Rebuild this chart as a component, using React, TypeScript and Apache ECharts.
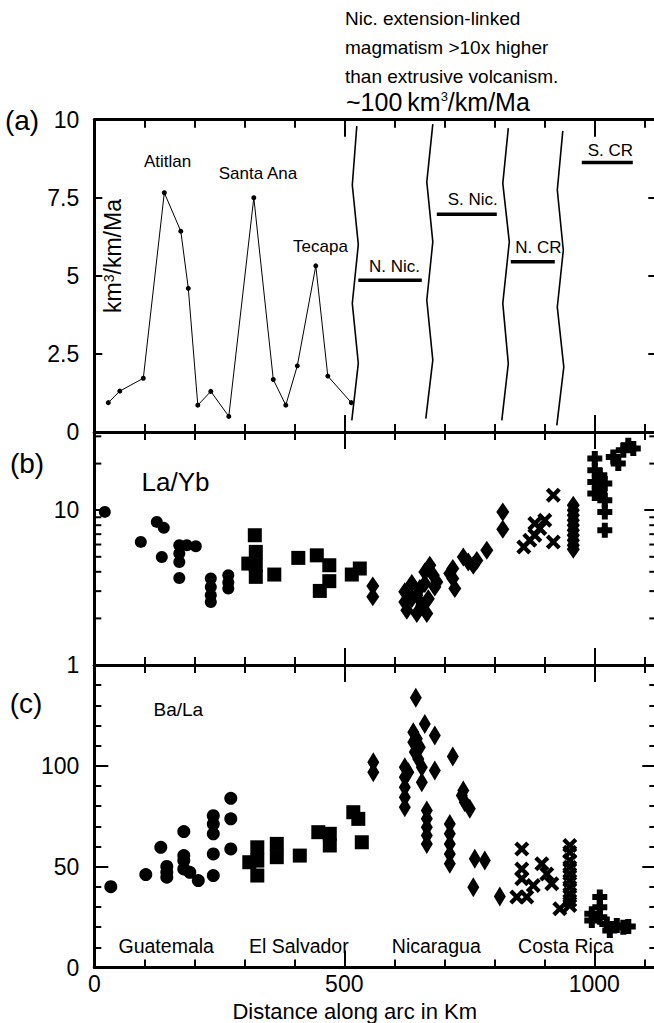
import React, { useEffect, useRef } from "react";
import * as echarts from "echarts";

const FONT = '"Liberation Sans", Arial, Helvetica, sans-serif';

// ---------- Panel (a): extrusive volcanism rate ----------
const eruptionKm = [28, 51, 98, 140, 173, 188, 207, 233, 269, 319, 358, 383, 406, 443, 467, 514];
const eruptionRate = [0.94, 1.31, 1.72, 7.66, 6.43, 4.6, 0.86, 1.3, 0.5, 7.5, 1.68, 0.86, 2.12, 5.32, 1.79, 0.94];

const boundary1 = [[525, 9.8], [516, 7.91], [528, 6.0], [516, 4.12], [528, 2.2], [515, 0.37]];
const boundary2 = [[677, 9.86], [665, 8.01], [677, 6.09], [665, 4.22], [677, 2.3], [663, 0.43]];
const boundary3 = [[828, 9.73], [817, 7.96], [830, 6.09], [817, 4.12], [828, 2.19], [815, 0.37]];
const boundary4 = [[937, 9.64], [926, 7.75], [938, 5.82], [926, 4.0], [939, 2.08], [925, 0.21]];

const segmentNames = ["N. Nic.", "S. Nic.", "N. CR", "S. CR"];
const segmentStart = [528, 685, 833, 975];
const segmentEnd = [655, 805, 921, 1077];
const segmentRate = [4.86, 6.97, 5.45, 8.63];

// ---------- Panel (b): La/Yb ----------
const circlesB = [[21, 9.75], [93, 6.24], [125, 8.4], [139, 7.69], [135, 4.99], [170, 5.94], [170, 5.25], [170, 4.63], [170, 3.65], [185, 5.94], [203, 5.85], [233, 3.62], [233, 3.19], [233, 2.82], [233, 2.55], [268, 3.8], [268, 3.41], [268, 3.12]];
const squaresB = [[321, 6.89], [308, 4.52], [323, 5.38], [323, 4.41], [323, 3.71], [360, 3.84], [408, 4.92], [445, 5.11], [470, 4.41], [470, 3.48], [451, 3.01], [515, 3.84], [531, 4.2]];
const diamondsB = [[557, 3.24], [557, 2.76], [621, 2.97], [621, 2.55], [625, 2.26], [635, 3.36], [635, 2.68], [645, 2.15], [645, 2.82], [651, 3.12], [655, 2.43], [661, 3.99], [661, 3.36], [665, 2.15], [668, 2.68], [678, 3.8], [681, 3.19], [685, 3.44], [671, 4.41], [711, 3.9], [717, 4.2], [717, 3.62], [721, 3.12], [738, 4.99], [748, 4.63], [758, 4.41], [765, 4.74], [785, 5.51], [817, 9.75], [817, 7.54], [958, 10.77], [958, 10], [958, 9.28], [958, 8.62], [958, 8.0], [958, 7.43], [958, 6.89], [958, 6.4], [958, 5.94], [958, 5.6]];
const crossesB = [[859, 5.79], [871, 6.4], [881, 8.2], [881, 6.89], [891, 7.61], [901, 8.62], [918, 12.5], [918, 6.24]];
const plusB = [[1001, 21.6], [1001, 18.1], [1001, 15.2], [1001, 12.8], [1011, 16.8], [1011, 12.8], [1021, 14.9], [1021, 11.6], [1021, 9.75], [1021, 7.42], [1038, 22.1], [1048, 20.0], [1058, 24.4], [1068, 26.3], [1078, 25.0]];
const laYbMinorTicks = [2, 3, 4, 5, 6, 7, 8, 9, 20, 30];

// ---------- Panel (c): Ba/La ----------
const circlesC = [[33, 40.1], [103, 46.1], [133, 59.6], [145, 50.1], [145, 47.2], [145, 44.8], [179, 67.4], [179, 55.5], [179, 53.0], [179, 48.9], [191, 47.2], [208, 43.1], [238, 75.3], [238, 71.2], [238, 66.3], [238, 56.3], [238, 45.6], [273, 83.9], [273, 73.7], [273, 58.8]];
const squaresC = [[310, 52.2], [326, 59.6], [326, 53.0], [326, 45.6], [365, 61.3], [365, 54.7], [411, 55.5], [448, 67.1], [471, 66.3], [471, 60.5], [518, 77.0], [528, 73.7], [535, 62.1]];
const diamondsC = [[558, 101.8], [558, 96.8], [643, 133.7], [661, 120.8], [681, 115.0], [638, 116.7], [638, 111.7], [641, 106.8], [645, 113.4], [651, 109.2], [648, 103.4], [655, 99.3], [655, 91.9], [681, 97.7], [717, 104.6], [621, 99.3], [621, 94.4], [621, 89.4], [621, 84.4], [621, 79.5], [628, 96.8], [665, 77.8], [665, 73.7], [665, 69.5], [665, 65.4], [665, 61.3], [735, 85.3], [741, 82.0], [751, 78.7], [738, 87.8], [711, 71.2], [711, 66.3], [711, 61.3], [711, 56.3], [711, 51.4], [761, 53.9], [781, 53.0], [758, 39.8], [811, 35.2]];
const crossesC = [[855, 58.8], [855, 48.9], [855, 44.0], [845, 34.9], [865, 34.9], [878, 40.6], [895, 51.4], [905, 46.4], [915, 41.5], [931, 29.1], [951, 60.5], [951, 57.2], [951, 53.0], [951, 49.7], [951, 46.4], [951, 43.1], [951, 39.8], [951, 36.5], [951, 33.2], [951, 30.7]];
const plusC = [[995, 26.6], [995, 23.3], [1011, 34.9], [1011, 29.9], [1011, 24.9], [1025, 21.6], [1031, 18.3], [1045, 20.8], [1058, 20.0], [1068, 20.3]];

const xTickLabels = [0, 500, 1000];

const X_MIN = 0;
const X_MAX = 1124;

const PLUS_PATH = "path://M3,0H7V3H10V7H7V10H3V7H0V3H3Z";
const CROSS_PATH = "path://M0,2L2,0L5,3L8,0L10,2L7,5L10,8L8,10L5,7L2,10L0,8L3,5Z";

const GRID_LEFT = 94.3;
const GRID_WIDTH = 562;
const grids = [
  { top: 119.7, height: 312.3 },
  { top: 432, height: 233 },
  { top: 665, height: 302.5 },
];

function xAxisFor(g: number, pos: string, interval: number, len: number, showLine: boolean, showLabel: boolean) {
  return {
    type: "value",
    gridIndex: g,
    position: pos,
    min: X_MIN,
    max: X_MAX,
    interval,
    axisLine: { show: showLine, onZero: false, lineStyle: { color: "#000", width: 3 } },
    axisTick: { show: true, inside: true, length: len, lineStyle: { color: "#000", width: 2 } },
    axisLabel: {
      show: showLabel,
      fontSize: 23,
      fontFamily: FONT,
      color: "#000",
      margin: 5,
      formatter: (v: number) => (xTickLabels.indexOf(v) >= 0 ? String(v) : ""),
    },
    splitLine: { show: false },
  };
}

function txt(text: string, x: number, y: number, size: number, align = "center", extra: any = {}) {
  return {
    type: "text",
    x,
    y,
    ...extra,
    style: {
      text,
      fontSize: size,
      fontFamily: FONT,
      fill: "#000",
      align,
      verticalAlign: "middle",
      textAlign: align,
      textVerticalAlign: "middle",
      ...(extra.style || {}),
    },
  };
}

export default function App() {
  const ref = useRef<HTMLDivElement>(null);
  useEffect(() => {
    if (!ref.current) return;
    const chart = echarts.init(ref.current, undefined, { renderer: "svg" });

    const xAxes: any[] = [];
    for (let g = 0; g < 3; g++) {
      xAxes.push(xAxisFor(g, "bottom", 100, 8, true, false));
      xAxes.push(xAxisFor(g, "bottom", 500, 17, false, g === 2));
      xAxes.push(xAxisFor(g, "top", 100, 8, true, false));
      xAxes.push(xAxisFor(g, "top", 500, 17, false, false));
    }

    const yLabel = { fontSize: 23, fontFamily: FONT, color: "#000", margin: 15 };
    const axLine = { show: true, onZero: false, lineStyle: { color: "#000", width: 3 } };
    const yAxes: any[] = [
      {
        type: "value", gridIndex: 0, position: "left", min: 0, max: 10, interval: 2.5,
        axisLine: axLine,
        axisTick: { inside: true, length: 8, lineStyle: { color: "#000", width: 2 } },
        axisLabel: { ...yLabel, formatter: (v: number) => String(v) },
        splitLine: { show: false },
      },
      {
        type: "value", gridIndex: 0, position: "right", min: 0, max: 10, interval: 2.5,
        axisLine: axLine,
        axisTick: { inside: true, length: 8, lineStyle: { color: "#000", width: 2 } },
        axisLabel: { show: false },
        splitLine: { show: false },
      },
      {
        type: "log", logBase: 10, gridIndex: 1, position: "left", min: 1, max: 32,
        axisLine: axLine,
        axisTick: { inside: true, length: 12, lineStyle: { color: "#000", width: 2 } },
        axisLabel: { ...yLabel, formatter: (v: number) => (Math.abs(v - 1) < 1e-6 || Math.abs(v - 10) < 1e-6 ? String(Math.round(v)) : "") },
        splitLine: { show: false },
      },
      {
        type: "log", logBase: 10, gridIndex: 1, position: "right", min: 1, max: 32,
        axisLine: axLine,
        axisTick: { inside: true, length: 12, lineStyle: { color: "#000", width: 2 } },
        axisLabel: { show: false },
        splitLine: { show: false },
      },
      {
        type: "value", gridIndex: 2, position: "left", min: 0, max: 150, interval: 50,
        axisLine: axLine,
        axisTick: { inside: true, length: 14, lineStyle: { color: "#000", width: 2 } },
        minorTick: { show: true, splitNumber: 5, length: 7, lineStyle: { color: "#000", width: 2 } },
        axisLabel: { ...yLabel, formatter: (v: number) => (v === 150 ? "" : String(v)) },
        splitLine: { show: false },
        minorSplitLine: { show: false },
      },
      {
        type: "value", gridIndex: 2, position: "right", min: 0, max: 150, interval: 50,
        axisLine: axLine,
        axisTick: { inside: true, length: 14, lineStyle: { color: "#000", width: 2 } },
        minorTick: { show: true, splitNumber: 5, length: 7, lineStyle: { color: "#000", width: 2 } },
        axisLabel: { show: false },
        splitLine: { show: false },
        minorSplitLine: { show: false },
      },
    ];

    const blk = { color: "#000", opacity: 1 };
    const scatter = (data: number[][], xi: number, yi: number, symbol: string, size: any) => ({
      type: "scatter", xAxisIndex: xi, yAxisIndex: yi, data, symbol, symbolSize: size,
      itemStyle: blk, silent: true,
    });

    const series: any[] = [
      {
        type: "line", xAxisIndex: 0, yAxisIndex: 0,
        data: eruptionKm.map((x, i) => [x, eruptionRate[i]]),
        symbol: "circle", symbolSize: 5, showSymbol: true,
        lineStyle: { color: "#000", width: 1 }, itemStyle: blk,
      },
      ...[boundary1, boundary2, boundary3, boundary4].map((b) => ({
        type: "line", xAxisIndex: 0, yAxisIndex: 0, data: b, symbol: "none",
        lineStyle: { color: "#000", width: 1.6 },
      })),
      ...segmentNames.map((n, i) => ({
        type: "line", name: n, xAxisIndex: 0, yAxisIndex: 0,
        data: [[segmentStart[i], segmentRate[i]], [segmentEnd[i], segmentRate[i]]],
        symbol: "none", lineStyle: { color: "#000", width: 3.5 },
      })),
      scatter(circlesB, 4, 2, "circle", 12),
      scatter(squaresB, 4, 2, "rect", 14),
      scatter(diamondsB, 4, 2, "diamond", [13, 19]),
      scatter(crossesB, 4, 2, CROSS_PATH, 15),
      scatter(plusB, 4, 2, PLUS_PATH, 15),
      {
        type: "custom", xAxisIndex: 4, yAxisIndex: 2, clip: false, silent: true,
        data: laYbMinorTicks.map((v) => [X_MIN, v]),
        renderItem: (params: any, api: any) => {
          const v = api.value(1);
          const p1 = api.coord([X_MIN, v]);
          const p2 = api.coord([X_MAX, v]);
          return {
            type: "group",
            children: [
              { type: "line", shape: { x1: p1[0], y1: p1[1], x2: p1[0] + 7, y2: p1[1] }, style: { stroke: "#000", lineWidth: 2 } },
              { type: "line", shape: { x1: p2[0] - 7, y1: p2[1], x2: p2[0], y2: p2[1] }, style: { stroke: "#000", lineWidth: 2 } },
            ],
          };
        },
      },
      scatter(circlesC, 8, 4, "circle", 13),
      scatter(squaresC, 8, 4, "rect", 14),
      scatter(diamondsC, 8, 4, "diamond", [12, 20]),
      scatter(crossesC, 8, 4, CROSS_PATH, 15),
      scatter(plusC, 8, 4, PLUS_PATH, 15),
    ];

    const graphic: any[] = [
      txt("Nic. extension-linked", 345, 18, 19, "left"),
      txt("magmatism >10x higher", 345, 47, 19, "left"),
      txt("than extrusive volcanism.", 345, 76, 19, "left"),
      {
        type: "text", x: 346, y: 102,
        style: {
          text: "{a|~100\u2009km}{s|3}{a|/km/Ma}",
          rich: {
            a: { fontSize: 25, fontFamily: FONT, fill: "#000", color: "#000" },
            s: { fontSize: 13, fontFamily: FONT, fill: "#000", color: "#000", verticalAlign: "top" },
          },
          fill: "#000", align: "left", verticalAlign: "middle", textAlign: "left", textVerticalAlign: "middle",
        },
      },
      txt("(a)", 22, 120, 28),
      txt("(b)", 27, 463, 28),
      txt("(c)", 26, 703, 28),
      txt("Atitlan", 167.5, 161.7, 17),
      txt("Santa Ana", 258, 173.3, 17),
      txt("Tecapa", 320.5, 246.7, 17),
      txt("N. Nic.", 394.5, 266, 17),
      txt("S. Nic.", 472.8, 199, 17),
      txt("N. CR", 538.3, 247.3, 17),
      txt("S. CR", 610.3, 150.7, 17),
      txt("La/Yb", 175.5, 482, 26),
      txt("Ba/La", 178.3, 709.7, 19),
      txt("Guatemala", 166.2, 946.3, 19.5),
      txt("El Salvador", 298.8, 946.3, 19.5),
      txt("Nicaragua", 436.3, 946.3, 19.5),
      txt("Costa Rica", 565.8, 946.3, 19.5),
      txt("Distance along arc in Km", 354.7, 1011, 22),
      {
        type: "text", x: 113.3, y: 256, rotation: Math.PI / 2,
        style: {
          text: "{a|km}{s|3}{a|/km/Ma}",
          rich: {
            a: { fontSize: 23, fontFamily: FONT, fill: "#000", color: "#000" },
            s: { fontSize: 14, fontFamily: FONT, fill: "#000", color: "#000", verticalAlign: "top" },
          },
          fill: "#000", align: "center", verticalAlign: "middle", textAlign: "center", textVerticalAlign: "middle",
        },
      },
    ];

    chart.setOption({
      animation: false,
      backgroundColor: "#fff",
      textStyle: { fontFamily: FONT },
      grid: grids.map((g) => ({
        left: GRID_LEFT, width: GRID_WIDTH, top: g.top, height: g.height,
        containLabel: false, outerBoundsMode: "none", show: false,
      })),
      xAxis: xAxes,
      yAxis: yAxes,
      series,
      graphic,
    });
    return () => chart.dispose();
  }, []);

  return (
    <div
      ref={ref}
      style={{ position: "fixed", left: 0, top: 0, width: 654, height: 1023, background: "#fff" }}
    />
  );
}
